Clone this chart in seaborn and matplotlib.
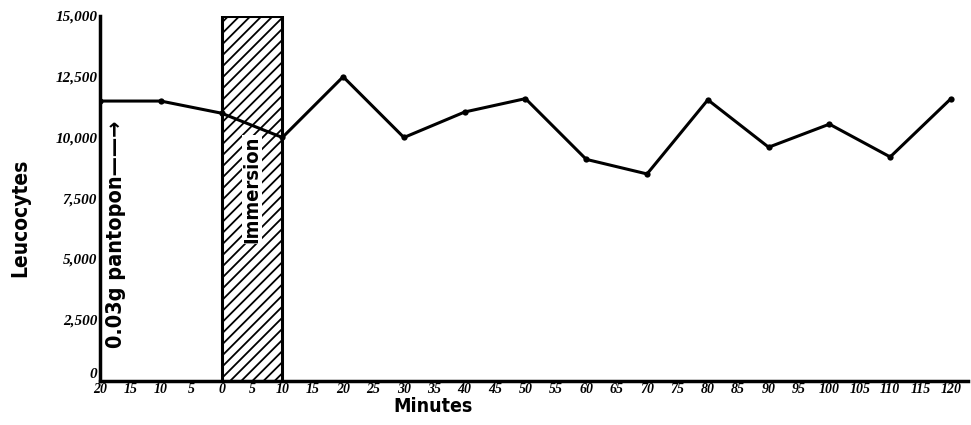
import numpy as np
import pandas as pd
import matplotlib
matplotlib.use("Agg")
import matplotlib.pyplot as plt
import seaborn as sns

# data
minutes = [-20, -10, 0, 10, 20, 30, 40, 50, 60, 70, 80, 90, 100, 110, 120]
leucocytes = [11500, 11500, 11000, 10000, 12500, 10000, 11050, 11600,
              9100, 8500, 11550, 9600, 10550, 9200, 11600]

x_ticks = list(range(-20, 121, 5))
x_tick_labels = ["20", "15", "10", "5", "0", "5", "10", "15", "20", "25",
                 "30", "35", "40", "45", "50", "55", "60", "65", "70", "75",
                 "80", "85", "90", "95", "100", "105", "110", "115", "120"]
y_ticks = [0, 2500, 5000, 7500, 10000, 12500, 15000]
y_tick_labels = ["0", "2,500", "5,000", "7,500", "10,000", "12,500", "15,000"]

immersion_start, immersion_end = 0, 10

df = pd.DataFrame({"Minutes": minutes, "Leucocytes": leucocytes})

sns.set_theme(style="white")
plt.rcParams["hatch.linewidth"] = 1.3
plt.rcParams["hatch.color"] = "black"
for key in ["text.color", "axes.labelcolor", "xtick.color", "ytick.color"]:
    plt.rcParams[key] = "black"

label_font = ["DejaVu Sans"]
tick_font = ["Liberation Serif", "DejaVu Serif"]

fig = plt.figure(figsize=(9.71, 4.25), dpi=100)
ax = fig.add_axes([100 / 971, 1 - 380.5 / 425, 868 / 971, 364.5 / 425])

# immersion period
ax.axvspan(immersion_start, immersion_end, ymin=0, ymax=1, facecolor="white",
           edgecolor="black", hatch="///", linewidth=2.2, zorder=1)

sns.lineplot(data=df, x="Minutes", y="Leucocytes", ax=ax, color="black",
             linewidth=2.2, marker="o", markersize=4.5, markeredgewidth=0,
             zorder=3)

ax.set_xlim(-20, 122.8)
ax.set_ylim(0, 15000)

ax.set_xticks(x_ticks)
ax.set_xticklabels(x_tick_labels, fontsize=10, fontstyle="italic",
                   family=tick_font, fontweight="bold")
ax.set_yticks(y_ticks)
ax.set_yticklabels(y_tick_labels, fontsize=11, fontstyle="italic",
                   family=tick_font, fontweight="bold")
ax.tick_params(axis="both", length=0, pad=2)
# the "0" on the y axis sits just above the x tick labels
ax.get_yticklabels()[0].set_verticalalignment("bottom")

for side in ["top", "right"]:
    ax.spines[side].set_visible(False)
for side in ["left", "bottom"]:
    ax.spines[side].set_linewidth(2.5)
    ax.spines[side].set_color("black")
    ax.spines[side].set_zorder(4)

ax.set_xlabel("Minutes", fontsize=14, family=label_font, fontweight="bold",
              fontstretch="condensed")
ax.set_ylabel("Leucocytes", fontsize=15, family=label_font, fontweight="bold",
              fontstretch="condensed")
ax.xaxis.set_label_coords((433 - 100) / 868, -16.5 / 364.5)
ax.yaxis.set_label_coords(-(100 - 30) / 868, 0.446)

ax.text(-17.4, 6000, "0.03g pantopon\u2014\u2014\u2192", rotation=90,
        ha="center", va="center", fontsize=15.5, family=label_font,
        fontweight="bold", fontstretch="condensed", zorder=5)
ax.text(5, 7850, "Immersion", rotation=90, ha="center", va="center",
        fontsize=14.5, family=label_font, fontweight="bold",
        fontstretch="condensed", zorder=5,
        bbox=dict(facecolor="white", edgecolor="none", pad=0.5))

ax.grid(False)
fig.savefig("out.png", dpi=100, facecolor="white")
